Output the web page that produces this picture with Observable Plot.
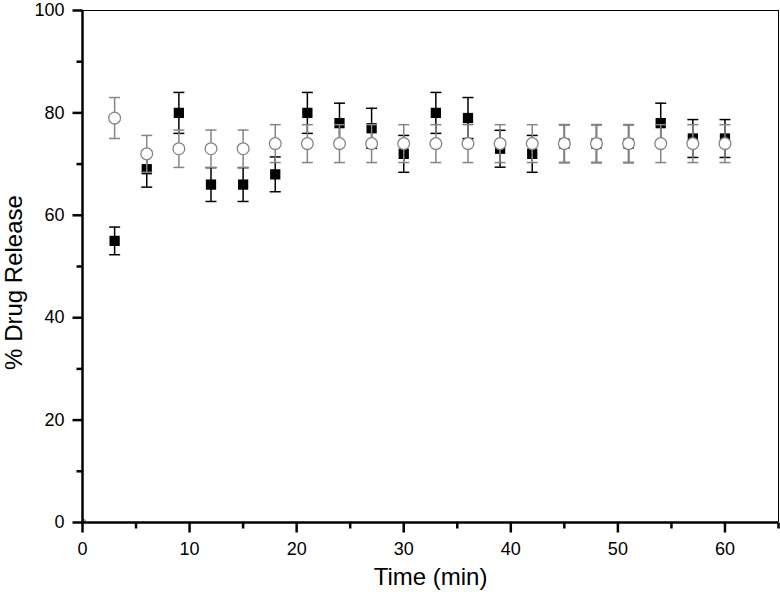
<!DOCTYPE html>
<html><head><meta charset="utf-8">
<script src="https://cdn.jsdelivr.net/npm/d3@7"></script>
<script src="https://cdn.jsdelivr.net/npm/@observablehq/plot@0.6"></script>
<style>body{margin:0;background:#fff;}svg{display:block;overflow:visible;}</style>
</head><body><div id="chart"></div>
<script>
const times = [3,6,9,12,15,18,21,24,27,30,33,36,39,42,45,48,51,54,57,60];
const squareVals = [55,69,80,66,66,68,80,78,77,72,80,79,73,72,74,74,74,78,75,75];
const squareErr  = [2.7,3.5,4,3.3,3.3,3.4,4,3.9,3.9,3.6,4,4,3.6,3.6,3.7,3.7,3.7,3.9,3.7,3.7];
const circleVals = [79,72,73,73,73,74,74,74,74,74,74,74,74,74,74,74,74,74,74,74];
const circleErr  = [4,3.6,3.65,3.65,3.65,3.7,3.7,3.7,3.7,3.7,3.7,3.7,3.7,3.7,3.7,3.7,3.7,3.7,3.7,3.7];
const originPoint = [{t: 0, v: 0}];
const yMajor = [0,20,40,60,80,100];
const yMinor = [10,30,50,70,90];
const xMajor = [0,10,20,30,40,50,60];
const xMinor = [5,15,25,35,45,55,65];
const xTitle = "Time (min)";
const yTitle = "% Drug Release";

const sq = times.map((t,i)=>({t, v:squareVals[i], e:squareErr[i]}));
const ci = times.map((t,i)=>({t, v:circleVals[i], e:circleErr[i]}));

const cap = {draw(ctx, size){ const w = Math.sqrt(size/Math.PI); ctx.moveTo(-w,0); ctx.lineTo(w,0); }};
const tickLeft = {draw(ctx, size){ const w = Math.sqrt(size/Math.PI); ctx.moveTo(-w,0); ctx.lineTo(0,0); }};
const tickDown = {draw(ctx, size){ const w = Math.sqrt(size/Math.PI); ctx.moveTo(0,0); ctx.lineTo(0,w); }};
const font = "'Liberation Sans', Arial, sans-serif";
const gray = "#858585";

const chart = Plot.plot({
  width: 780, height: 592,
  marginTop: 10, marginBottom: 70, marginLeft: 82, marginRight: 2,
  style: {fontFamily: font, background: "#fff", color: "#000", overflow: "visible"},
  x: {domain: [0,65]},
  y: {domain: [0,100]},
  marks: [
    Plot.axisY(yMajor, {tickSize: 0, tickPadding: 18, fontSize: 18, label: null}),
    Plot.axisX(xMajor, {tickSize: 0, tickPadding: 20, fontSize: 18, label: null}),
    Plot.dot(yMajor, {x: () => 0, y: d => d, symbol: tickLeft, r: 10, stroke: "#000", strokeWidth: 2.5}),
    Plot.dot(yMinor, {x: () => 0, y: d => d, symbol: tickLeft, r: 6, stroke: "#000", strokeWidth: 2.5}),
    Plot.dot(xMajor, {x: d => d, y: () => 0, symbol: tickDown, r: 10, stroke: "#000", strokeWidth: 2.5}),
    Plot.dot(xMinor, {x: d => d, y: () => 0, symbol: tickDown, r: 6, stroke: "#000", strokeWidth: 2.5}),
    Plot.text([yTitle], {frameAnchor: "left", textAnchor: "middle", lineAnchor: "middle", rotate: -90, dx: -68, dy: 16, fontSize: 24, fill: "#000"}),
    Plot.text([xTitle], {frameAnchor: "bottom", textAnchor: "middle", lineAnchor: "middle", dy: 55, fontSize: 24, fill: "#000"}),
    Plot.ruleY([100], {stroke: "#000", strokeWidth: 1}),
    Plot.ruleX([65], {stroke: "#000", strokeWidth: 1}),
    Plot.dot(originPoint, {x: "t", y: "v", symbol: "square", r: 3, fill: "#fff", stroke: "#666", strokeWidth: 1, clip: "frame"}),
    // square series
    Plot.ruleX(sq, {x: "t", y1: d => d.v - d.e, y2: d => d.v + d.e, stroke: "#000", strokeWidth: 1.5}),
    Plot.dot(sq, {x: "t", y: d => d.v + d.e, symbol: cap, r: 5.5, stroke: "#000", strokeWidth: 1.5}),
    Plot.dot(sq, {x: "t", y: d => d.v - d.e, symbol: cap, r: 5.5, stroke: "#000", strokeWidth: 1.5}),
    Plot.dot(sq, {x: "t", y: "v", symbol: "square", r: 5.8, fill: "#000", stroke: "none"}),
    // circle series
    Plot.ruleX(ci, {x: "t", y1: d => d.v - d.e, y2: d => d.v + d.e, stroke: gray, strokeWidth: 1.5}),
    Plot.dot(ci, {x: "t", y: d => d.v + d.e, symbol: cap, r: 5.5, stroke: gray, strokeWidth: 1.5}),
    Plot.dot(ci, {x: "t", y: d => d.v - d.e, symbol: cap, r: 5.5, stroke: gray, strokeWidth: 1.5}),
    Plot.dot(ci, {x: "t", y: "v", symbol: "circle", r: 5.9, fill: "#fff", stroke: gray, strokeWidth: 1.3}),
    Plot.ruleY([0], {stroke: "#000", strokeWidth: 2.5}),
    Plot.ruleX([0], {stroke: "#000", strokeWidth: 2.5})
  ]
});
document.getElementById("chart").appendChild(chart);
</script>
</body></html>
